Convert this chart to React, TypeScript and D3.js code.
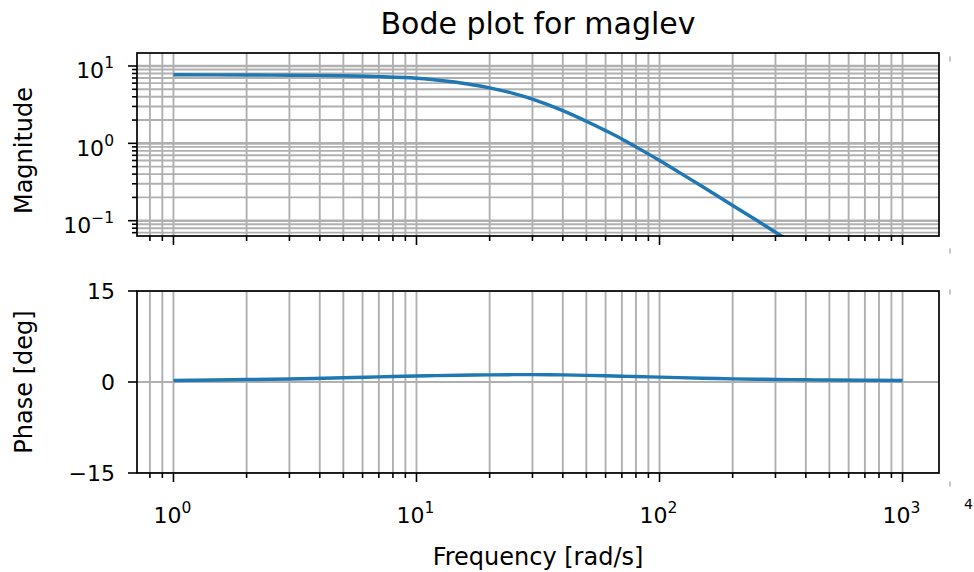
import React from "react";
import * as d3 from "d3";

const freqs = [1, 2, 3, 5, 7, 10, 12, 15, 20, 25, 30, 40, 50, 60, 70, 80, 100, 120, 150, 200, 250, 300, 400, 500, 1000];
const magnitude = [7.7, 7.66, 7.6, 7.48, 7.28, 6.95, 6.6, 6.08, 5.22, 4.42, 3.72, 2.65, 1.93, 1.46, 1.14, 0.9, 0.6, 0.425, 0.277, 0.157, 0.102, 0.071, 0.04, 0.026, 0.0066];
const phase = [0.25, 0.4, 0.5, 0.7, 0.85, 1.0, 1.05, 1.12, 1.18, 1.21, 1.22, 1.18, 1.1, 1.02, 0.95, 0.9, 0.8, 0.72, 0.62, 0.52, 0.46, 0.42, 0.36, 0.33, 0.25];

const xMajorTicks = [1, 10, 100, 1000];
const magMajorTicks = [0.1, 1, 10];
const phaseTicks = [-15, 0, 15];
const phaseTickLabels = ["\u221215", "0", "15"];

const title = "Bode plot for maglev";
const xLabel = "Frequency [rad/s]";
const magLabel = "Magnitude";
const phaseLabel = "Phase [deg]";

const FONT = "DejaVu Sans, sans-serif";
const GRID = "#b0b0b0";
const LINE = "#1f77b4";
const TICK_FS = 22;

function minorLog(domain: [number, number]) {
  const out: number[] = [];
  const lo = Math.floor(Math.log10(domain[0]));
  const hi = Math.ceil(Math.log10(domain[1]));
  for (let e = lo; e <= hi; e++) {
    for (let m = 2; m <= 9; m++) {
      const v = m * Math.pow(10, e);
      if (v >= domain[0] && v <= domain[1]) out.push(v);
    }
  }
  return out;
}

function Pow10({ x, y, exp, anchor }: { x: number; y: number; exp: number; anchor: string }) {
  const e = exp < 0 ? "\u2212" + Math.abs(exp) : String(exp);
  return (
    <text x={x} y={y} textAnchor={anchor} fontFamily={FONT} fontSize={TICK_FS} fill="#000">
      <tspan>10</tspan>
      <tspan dy={-10} fontSize={15.5}>{e}</tspan>
    </text>
  );
}

export default function App() {
  const L = 137, R = 939;
  const T1 = 53, B1 = 236;
  const T2 = 291, B2 = 473;
  const xDomain: [number, number] = [Math.pow(10, -0.15), Math.pow(10, 3.15)];
  const x = d3.scaleLog().domain(xDomain).range([L, R]);
  const magDomain: [number, number] = [Math.pow(10, -1.198), Math.pow(10, 1.168)];
  const yMag = d3.scaleLog().domain(magDomain).range([B1, T1]);
  const yPh = d3.scaleLinear().domain([-15, 15]).range([B2, T2]);

  const xMinor = minorLog(xDomain);
  const magMinor = minorLog(magDomain);

  const magLine = d3
    .line<number>()
    .x((_, i) => x(freqs[i]))
    .y((d) => yMag(d))
    .curve(d3.curveCatmullRom)(magnitude) as string;
  const phLine = d3
    .line<number>()
    .x((_, i) => x(freqs[i]))
    .y((d) => yPh(d))
    .curve(d3.curveCatmullRom)(phase) as string;

  const MAJ = 9, MIN = 5;
  const LABEL_R = L - 23;

  return (
    <svg width={974} height={572} style={{ position: "absolute", left: 0, top: 0, background: "#fff" }}>
      <defs>
        <clipPath id="c1">
          <rect x={L} y={T1} width={R - L} height={B1 - T1} />
        </clipPath>
        <clipPath id="c2">
          <rect x={L} y={T2} width={R - L} height={B2 - T2} />
        </clipPath>
      </defs>
      <rect x={0} y={0} width={974} height={572} fill="#fff" />

      {/* Top grid */}
      <g clipPath="url(#c1)" stroke={GRID} strokeWidth={1.9}>
        {xMinor.map((v) => (
          <line key={"xm" + v} x1={x(v)} x2={x(v)} y1={T1} y2={B1} />
        ))}
        {xMajorTicks.map((v) => (
          <line key={"xM" + v} x1={x(v)} x2={x(v)} y1={T1} y2={B1} />
        ))}
        {magMinor.map((v) => (
          <line key={"ym" + v} x1={L} x2={R} y1={yMag(v)} y2={yMag(v)} />
        ))}
        {magMajorTicks.map((v) => (
          <line key={"yM" + v} x1={L} x2={R} y1={yMag(v)} y2={yMag(v)} strokeWidth={2.6} />
        ))}
      </g>
      <path d={magLine} fill="none" stroke={LINE} strokeWidth={3.4} clipPath="url(#c1)" />
      <rect x={L} y={T1} width={R - L} height={B1 - T1} fill="none" stroke="#000" strokeWidth={1.7} />
      {/* Top ticks */}
      <g stroke="#000" strokeWidth={1.6}>
        {xMajorTicks.map((v) => (
          <line key={"tx" + v} x1={x(v)} x2={x(v)} y1={B1} y2={B1 + MAJ} />
        ))}
        {xMinor.map((v) => (
          <line key={"txm" + v} x1={x(v)} x2={x(v)} y1={B1} y2={B1 + MIN} />
        ))}
        {magMajorTicks.map((v) => (
          <line key={"ty" + v} x1={L - MAJ} x2={L} y1={yMag(v)} y2={yMag(v)} />
        ))}
        {magMinor.map((v) => (
          <line key={"tym" + v} x1={L - MIN} x2={L} y1={yMag(v)} y2={yMag(v)} />
        ))}
      </g>
      {magMajorTicks.map((v) => (
        <Pow10 key={"ly" + v} x={LABEL_R} y={yMag(v) + 12.5} exp={Math.round(Math.log10(v))} anchor="end" />
      ))}

      {/* Bottom grid */}
      <g clipPath="url(#c2)" stroke={GRID} strokeWidth={1.9}>
        {xMinor.map((v) => (
          <line key={"bxm" + v} x1={x(v)} x2={x(v)} y1={T2} y2={B2} />
        ))}
        {xMajorTicks.map((v) => (
          <line key={"bxM" + v} x1={x(v)} x2={x(v)} y1={T2} y2={B2} />
        ))}
        {phaseTicks.map((v) => (
          <line key={"by" + v} x1={L} x2={R} y1={yPh(v)} y2={yPh(v)} />
        ))}
      </g>
      <path d={phLine} fill="none" stroke={LINE} strokeWidth={3.4} clipPath="url(#c2)" />
      <rect x={L} y={T2} width={R - L} height={B2 - T2} fill="none" stroke="#000" strokeWidth={1.7} />
      <g stroke="#000" strokeWidth={1.6}>
        {xMajorTicks.map((v) => (
          <line key={"btx" + v} x1={x(v)} x2={x(v)} y1={B2} y2={B2 + MAJ} />
        ))}
        {xMinor.map((v) => (
          <line key={"btxm" + v} x1={x(v)} x2={x(v)} y1={B2} y2={B2 + MIN} />
        ))}
        {phaseTicks.map((v) => (
          <line key={"bty" + v} x1={L - MAJ} x2={L} y1={yPh(v)} y2={yPh(v)} />
        ))}
      </g>
      {phaseTicks.map((v, i) => (
        <text key={"bly" + v} x={LABEL_R + 1} y={yPh(v) + 8} textAnchor="end" fontFamily={FONT} fontSize={TICK_FS} fill="#000">
          {phaseTickLabels[i]}
        </text>
      ))}
      {xMajorTicks.map((v) => (
        <Pow10 key={"lx" + v} x={x(v) - 1} y={B2 + 50} exp={Math.round(Math.log10(v))} anchor="middle" />
      ))}

      {/* Labels */}
      <text x={(L + R) / 2} y={34} textAnchor="middle" fontFamily={FONT} fontSize={30} fill="#000">
        {title}
      </text>
      <text x={(L + R) / 2} y={565} textAnchor="middle" fontFamily={FONT} fontSize={24} fill="#000">
        {xLabel}
      </text>
      <text transform={`translate(32,${(T1 + B1) / 2 + 6}) rotate(-90)`} textAnchor="middle" fontFamily={FONT} fontSize={24} fill="#000">
        {magLabel}
      </text>
      <text transform={`translate(32,${(T2 + B2) / 2}) rotate(-90)`} textAnchor="middle" fontFamily={FONT} fontSize={24} fill="#000">
        {phaseLabel}
      </text>

      {/* Edge remnants of a neighbouring panel */}
      <g stroke="#aaa" strokeWidth={1.3}>
        {[T1 + 6, B1 + 15, T2 + 1, B2 + 11].map((yy, i) => (
          <line key={"e" + i} x1={950} x2={950} y1={yy - 2.5} y2={yy + 2.5} />
        ))}
      </g>
      <text x={964} y={509} fontFamily={FONT} fontSize={14} fill="#000">4</text>
    </svg>
  );
}
